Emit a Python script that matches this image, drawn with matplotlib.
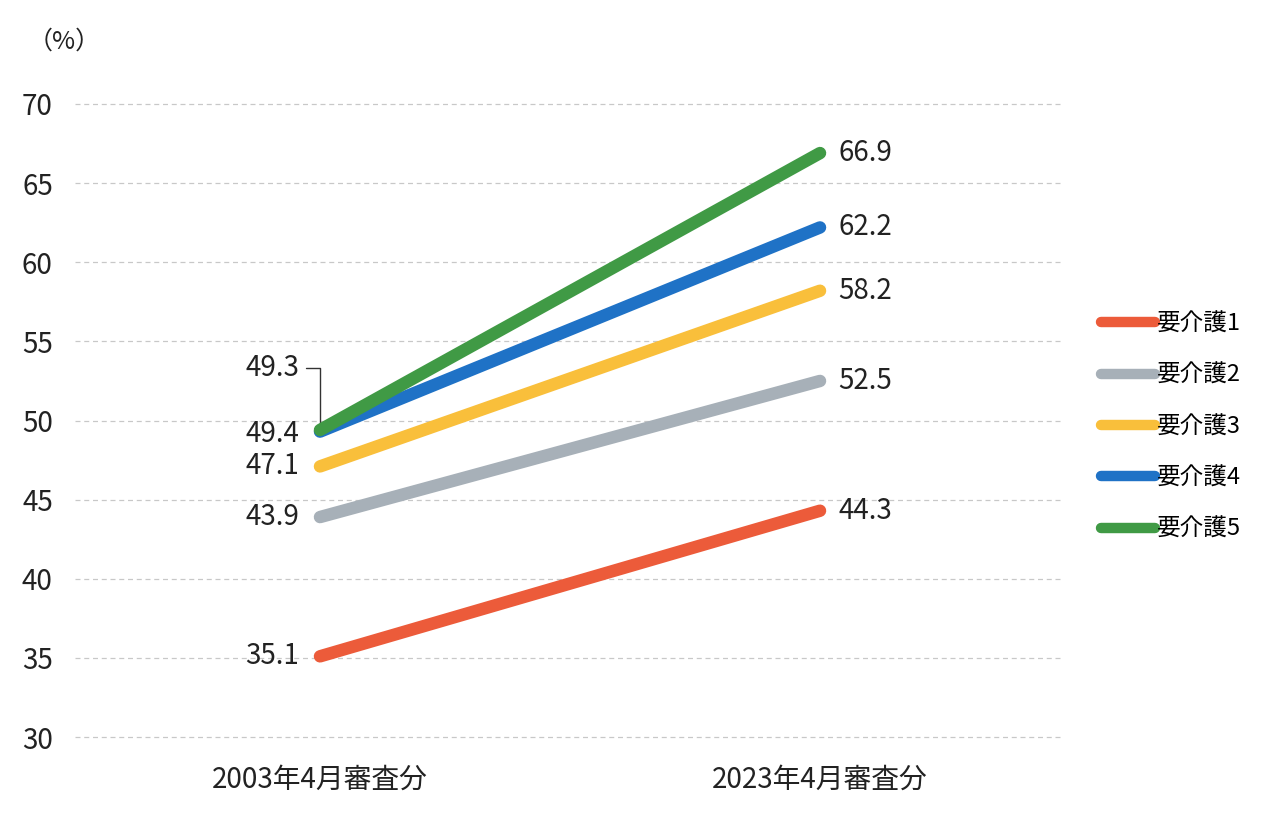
import matplotlib.pyplot as plt
import numpy as np

plt.rcParams["font.family"] = ["Noto Sans CJK JP", "DejaVu Sans"]

# data
periods = ["2003年4月審査分", "2023年4月審査分"]
levels = ["要介護1", "要介護2", "要介護3", "要介護4", "要介護5"]
v2003 = [35.1, 43.9, 47.1, 49.3, 49.4]
v2023 = [44.3, 52.5, 58.2, 62.2, 66.9]
colors = ["#EC5B3A", "#A7B0B8", "#F9BF3B", "#1F72C6", "#409A45"]
yticks = [30, 35, 40, 45, 50, 55, 60, 65, 70]

fig = plt.figure(figsize=(12.71, 8.30), dpi=100)
ax = fig.add_axes([0.059, 0.112, 0.775, 0.7627])

x = np.arange(len(periods))
for i in range(len(levels)):
    ax.plot(x, [v2003[i], v2023[i]], color=colors[i], linewidth=9,
            solid_capstyle="round", label=levels[i], zorder=3 + i)

# value labels
for i in range(len(levels)):
    ax.annotate(f"{v2023[i]}", (x[1], v2023[i]), xytext=(13, 0),
                textcoords="offset points", ha="left", va="center",
                fontsize=20, color="#222222")

left_offsets = {0: 0, 1: 0, 2: 0, 4: -3}
for i, dy in left_offsets.items():
    ax.annotate(f"{v2003[i]}", (x[0], v2003[i]), xytext=(-15, dy),
                textcoords="offset points", ha="right", va="center",
                fontsize=20, color="#222222")

# 49.3 with leader line
ax.annotate(f"{v2003[3]}", (x[0], v2003[3]), xytext=(-15, 46),
            textcoords="offset points", ha="right", va="center",
            fontsize=20, color="#222222",
            arrowprops=dict(arrowstyle="-", color="#333333", lw=1,
                            connectionstyle="angle,angleA=0,angleB=90,rad=0",
                            shrinkA=3, shrinkB=3))

ax.set_xlim(-0.49, 1.48)
ax.set_ylim(30, 70)
ax.set_yticks(yticks)
ax.set_xticks(x)
ax.set_xticklabels(periods, fontsize=20, color="#222222")
ax.tick_params(axis="y", labelsize=20, colors="#222222", length=0, pad=16)
ax.tick_params(axis="x", length=0, pad=20)
ax.grid(axis="y", linestyle=(0, (4, 3)), color="#C8C8C8", linewidth=0.9)
for line in ax.get_ygridlines():
    line.set_clip_on(False)
for s in ax.spines.values():
    s.set_visible(False)

fig.text(0.022, 0.950, "（%）", fontsize=18, color="#222222",
         ha="left", va="center")

leg = ax.legend(loc="center left", bbox_to_anchor=(1.020, 0.49),
                frameon=False, fontsize=17, handlelength=2.3,
                handletextpad=0.05, labelspacing=1.2)
for h in leg.get_lines():
    h.set_linewidth(7.5)
    h.set_solid_capstyle("round")

plt.savefig("out.png", dpi=100)
